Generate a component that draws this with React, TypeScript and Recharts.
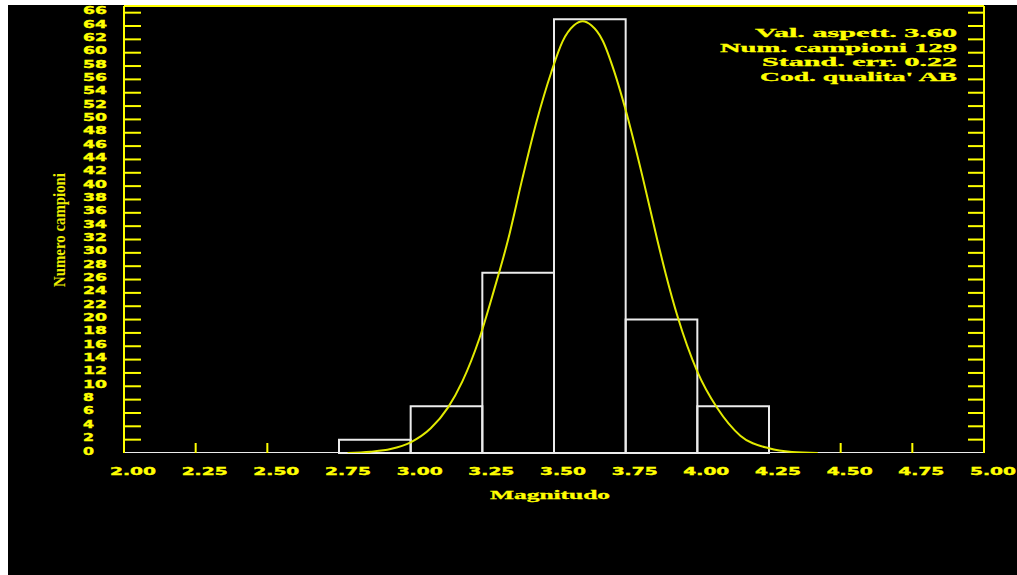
import React from 'react';
import { ComposedChart, Line, XAxis, YAxis, ReferenceArea } from 'recharts';

// ---- data ----
const xTicks = [2.0, 2.25, 2.5, 2.75, 3.0, 3.25, 3.5, 3.75, 4.0, 4.25, 4.5, 4.75, 5.0];
const xInnerTicks = [2.25, 2.5, 2.75, 3.0, 3.25, 3.5, 3.75, 4.0, 4.25, 4.5, 4.75];
const yTicks = [0, 2, 4, 6, 8, 10, 12, 14, 16, 18, 20, 22, 24, 26, 28, 30, 32, 34, 36, 38, 40, 42, 44, 46, 48, 50, 52, 54, 56, 58, 60, 62, 64, 66];

const binStarts = [2.75, 3.0, 3.25, 3.5, 3.75, 4.0];
const binEnds = [3.0, 3.25, 3.5, 3.75, 4.0, 4.25];
const binCounts = [2, 7, 27, 65, 20, 7];

const baselineX = [2.0, 5.0];
const baselineY = [0, 0];

const curveX = [2.78, 2.86, 2.93, 3.0, 3.07, 3.13, 3.18, 3.24, 3.29, 3.34, 3.39, 3.44, 3.49, 3.53, 3.57, 3.6, 3.63, 3.67, 3.71, 3.75, 3.81, 3.86, 3.89, 3.93, 4.0, 4.07, 4.15, 4.25, 4.33, 4.42];
const curveY = [0, 0.2, 0.6, 1.6, 3.7, 6.8, 10.7, 17.2, 24.3, 32.0, 41.2, 49.8, 57.0, 61.7, 64.1, 64.7, 64.1, 61.8, 57.2, 51.4, 41.2, 32.0, 26.8, 20.6, 12.2, 6.7, 2.6, 0.7, 0.15, 0];

const statsLines = ["Val. aspett. 3.60", "Num. campioni 129", "Stand. err. 0.22", "Cod. qualita' AB"];
const statsWidths = [202, 237, 195, 197];
const xTitle = 'Magnitudo';
const yTitle = 'Numero campioni';

// ---- derived tables ----
const curveData = curveX.map((x, i) => ({ x, y: curveY[i] }));
const baselineData = baselineX.map((x, i) => ({ x, y: baselineY[i] }));
const binEdges = new Set([...binStarts, ...binEnds]);

const YEL = '#ffff00';
const CURVE = '#e2ea00';
const WHITE = '#ececec';
const TICKFONT = 'DejaVu Sans';
const SERIF = 'Liberation Serif';

const BottomTick = (props: any) => {
  const { x, y, payload } = props;
  const covered = binEdges.has(payload.value);
  return (
    <g>
      {!covered && <line x1={x} y1={y} x2={x} y2={y - 10} stroke={YEL} strokeWidth={2} />}
      <text x={x - 14} y={y + 22} fill={YEL} stroke={YEL} strokeWidth={0.4} fontFamily={TICKFONT}
        fontWeight="bold" fontSize={11} textLength={46} lengthAdjust="spacingAndGlyphs">
        {Number(payload.value).toFixed(2)}
      </text>
    </g>
  );
};

const TopTick = (props: any) => {
  const { x, y } = props;
  return <line x1={x} y1={y} x2={x} y2={y + 8} stroke={YEL} strokeWidth={2} />;
};

const LeftTick = (props: any) => {
  const { x, y, payload } = props;
  const s = String(payload.value);
  return (
    <g>
      {payload.value !== 0 && <line x1={x} y1={y} x2={x + 17} y2={y} stroke={YEL} strokeWidth={2} />}
      <text x={x - 41} y={y + 1.5} fill={YEL} stroke={YEL} strokeWidth={0.4} fontFamily={TICKFONT}
        fontWeight="bold" fontSize={11} textLength={s.length > 1 ? 24 : 11} lengthAdjust="spacingAndGlyphs">
        {s}
      </text>
    </g>
  );
};

const RightTick = (props: any) => {
  const { x, y, payload } = props;
  if (payload.value === 0) return <g />;
  return <line x1={x - 16} y1={y} x2={x} y2={y} stroke={YEL} strokeWidth={2} />;
};

export default function App() {
  return (
    <div style={{ position: 'absolute', left: 0, top: 0, width: 1017, height: 575, background: '#ffffff', overflow: 'hidden' }}>
      <div style={{ position: 'absolute', left: 8, top: 5, width: 1009, height: 570, background: '#000000' }}>
        <ComposedChart width={1009} height={570} margin={{ top: 0, right: 32, left: 115, bottom: 121 }}>
          <XAxis xAxisId={0} dataKey="x" type="number" domain={[2, 5]} ticks={xTicks} allowDataOverflow
            orientation="bottom" height={1} axisLine={false} tickLine={false} tickSize={0} tickMargin={0}
            tick={<BottomTick />} interval={0} />
          <XAxis xAxisId="top" type="number" domain={[2, 5]} ticks={xInnerTicks} allowDataOverflow
            orientation="top" height={1} axisLine={{ stroke: YEL, strokeWidth: 2 }} tickLine={false}
            tickSize={0} tickMargin={0} tick={<TopTick />} interval={0} />
          <YAxis yAxisId={0} type="number" domain={[0, 67]} ticks={yTicks} allowDataOverflow
            orientation="left" width={1} axisLine={{ stroke: YEL, strokeWidth: 2 }} tickLine={false}
            tickSize={0} tickMargin={0} tick={<LeftTick />} interval={0} />
          <YAxis yAxisId="right" type="number" domain={[0, 67]} ticks={yTicks} allowDataOverflow
            orientation="right" width={1} axisLine={{ stroke: YEL, strokeWidth: 2 }} tickLine={false}
            tickSize={0} tickMargin={0} tick={<RightTick />} interval={0} />
          {binCounts.map((c, i) => (
            <ReferenceArea key={i} x1={binStarts[i]} x2={binEnds[i]} y1={0} y2={c}
              fill="none" fillOpacity={0} stroke={WHITE} strokeWidth={2} ifOverflow="visible" />
          ))}
          <Line data={baselineData} dataKey="y" type="linear" stroke={WHITE} strokeWidth={2}
            dot={false} activeDot={false} isAnimationActive={false} />
          <Line data={curveData} dataKey="y" type="monotone" stroke={CURVE} strokeWidth={2}
            dot={false} activeDot={false} isAnimationActive={false} />
        </ComposedChart>
      </div>
      <svg width={1017} height={575} style={{ position: 'absolute', left: 0, top: 0, pointerEvents: 'none' }}>
        {statsLines.map((s, i) => (
          <text key={i} x={957} y={37 + i * 14.7} textAnchor="end" fill={YEL} stroke={YEL} strokeWidth={0.3}
            fontFamily={SERIF} fontWeight="bold" fontSize={12} textLength={statsWidths[i]}
            lengthAdjust="spacingAndGlyphs">{s}</text>
        ))}
        <text x={490} y={499} fill={YEL} stroke={YEL} strokeWidth={0.3} fontFamily={SERIF} fontWeight="bold"
          fontSize={13} textLength={120} lengthAdjust="spacingAndGlyphs">{xTitle}</text>
        <text x={65} y={230} transform="rotate(-90, 65, 230)" textAnchor="middle" fill="#eeee00"
          fontFamily={SERIF} fontWeight="bold" fontSize={16} textLength={114}
          lengthAdjust="spacingAndGlyphs">{yTitle}</text>
      </svg>
    </div>
  );
}
